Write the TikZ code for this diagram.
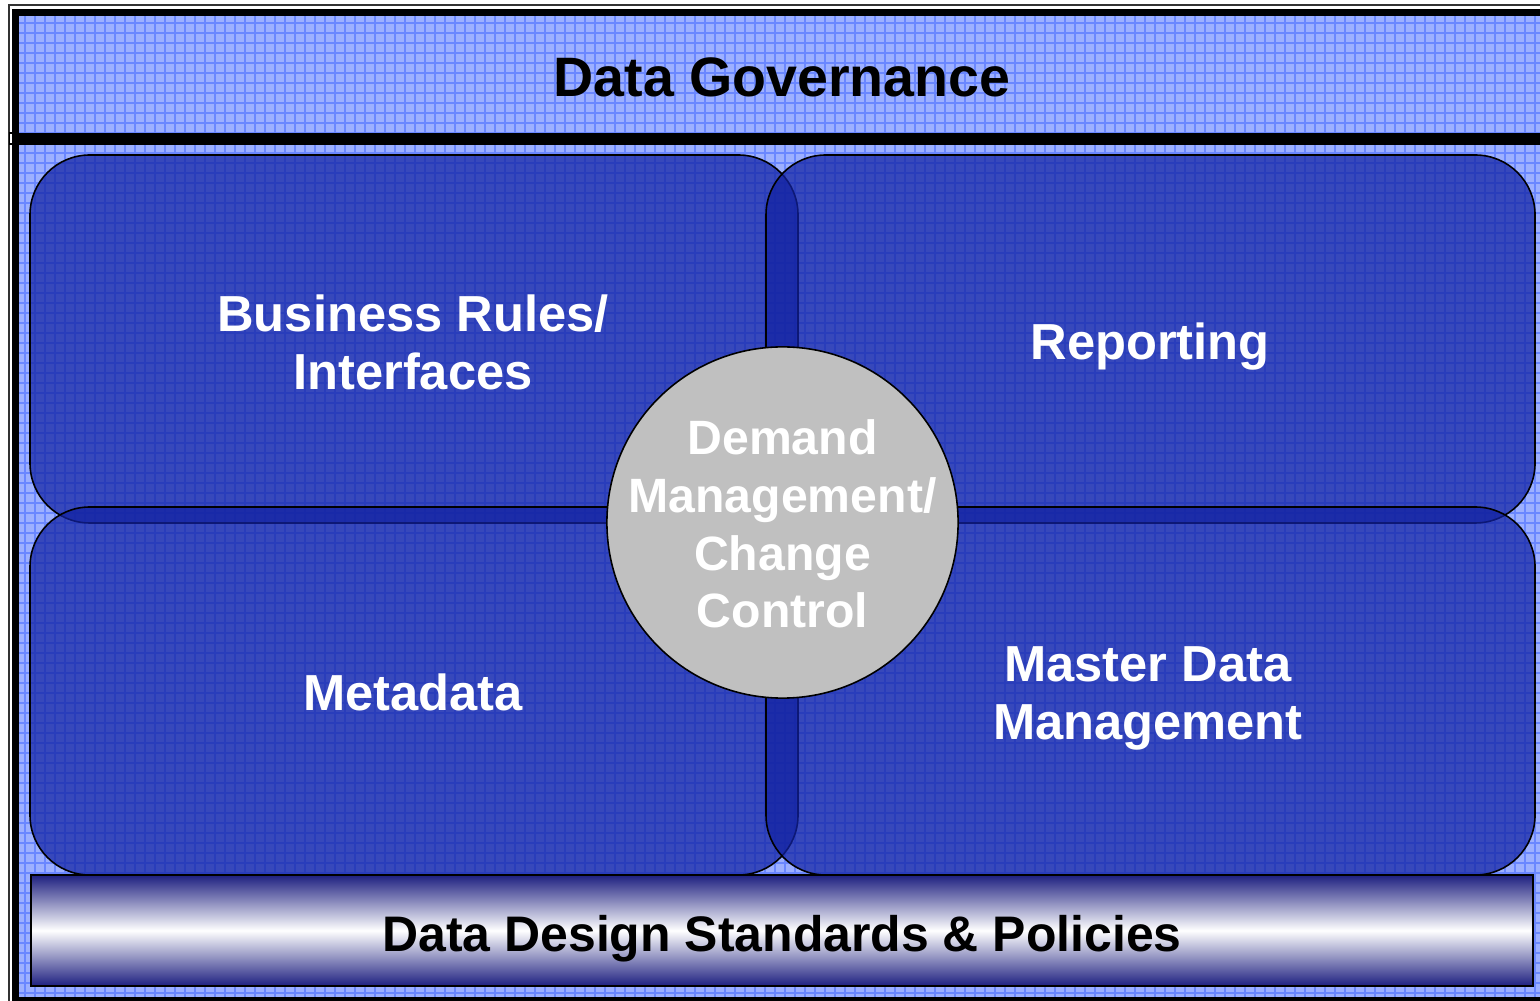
\documentclass[tikz,border=0pt]{standalone}
\usepackage{fontspec}
\setmainfont{Liberation Sans}
\definecolor{bgblue}{HTML}{9DB0FF}
\definecolor{gridblue}{HTML}{6A87FF}
\definecolor{boxblue}{HTML}{1222A2}
\definecolor{navyshade}{HTML}{1E2080}
\definecolor{discgray}{HTML}{C0C0C0}
\begin{document}
\begin{tikzpicture}[x=0.01cm,y=-0.01cm,
  quad/.style={draw=black, line width=0.45pt, fill=boxblue, fill opacity=0.73, rounded corners=17pt},
  wlabel/.style={text=white, font=\fontsize{14.4}{16.5}\selectfont\bfseries, align=center, inner sep=0pt},
  blabel/.style={text=black, inner sep=0pt},
  gridline/.style={draw=gridblue, line width=0.45pt}]
\clip (0,0) rectangle (1540,1001);
\fill[white] (0,0) rectangle (1540,1001);
% thin outer line
\draw[black!80, line width=0.45pt] (9,5) rectangle (1600,1050);
% light blue background with grid
\fill[bgblue] (15,12) rectangle (1600,1000);
\foreach \gx in {25,35,...,1545} {\path[gridline] (\gx,16) -- (\gx,1000);}
\foreach \gy in {23,33,...,1003} {\path[gridline] (19,\gy) -- (1600,\gy);}
% thick frame
\draw[black, line width=2pt] (15.5,12.5) rectangle (1600,1000.5);
% separator under the title band
\draw[black, line width=3.4pt] (15,139) -- (1600,139);
\draw[black, fill=white, line width=0.4pt] (9.5,133) rectangle (13,144);
% four quadrants
\path[quad] (30,155) rectangle (798,523);
\path[quad] (766,155) rectangle (1535,523);
\path[quad] (30,507) rectangle (798,875);
\path[quad] (766,507) rectangle (1535,875);
% centre disc
\node[circle, draw=black, line width=0.45pt, fill=discgray, minimum size=3.51cm, inner sep=0pt]
  (disc) at (782.5,522.5) {};
\node[text=white, font=\fontsize{13.7}{16.4}\selectfont\bfseries, align=center, inner sep=0pt]
  (demand) at (782.5,524) {Demand\\Management/\\Change\\Control};
% bottom bar
\path[draw=black, line width=0.75pt, top color=navyshade, bottom color=navyshade, middle color=white]
  (31,875) rectangle (1533,986);
% texts
\node[blabel, font=\fontsize{15.8}{18}\selectfont\bfseries, anchor=base] (gov) at (782,97) {Data Governance};
\node[blabel, font=\fontsize{14.2}{17}\selectfont\bfseries, anchor=base] (std) at (782,951) {Data Design Standards \& Policies};
\node[wlabel] (rules) at (413,342) {Business Rules/\\Interfaces};
\node[wlabel, anchor=base] (rep) at (1150,360) {Reporting};
\node[wlabel, anchor=base] (meta) at (413,711) {Metadata};
\node[wlabel] (mdm) at (1148,698) {Master Data\\Management};
\end{tikzpicture}
\end{document}
